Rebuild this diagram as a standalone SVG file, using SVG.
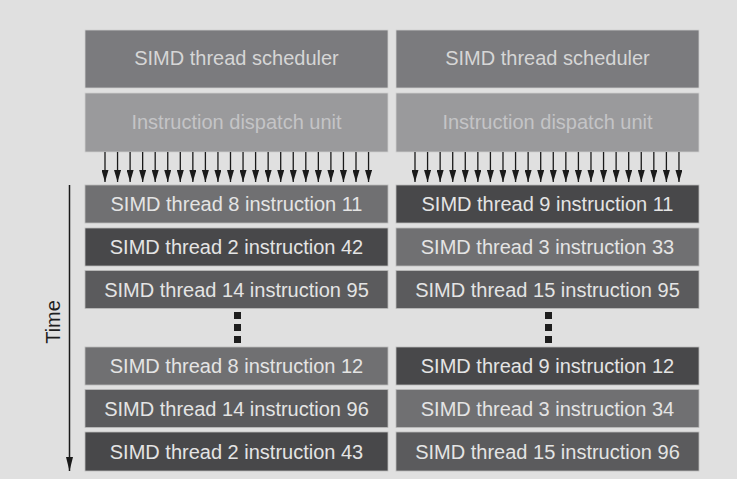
<svg xmlns="http://www.w3.org/2000/svg" width="737" height="479" viewBox="0 0 737 479">
<style>
  text { font-family: "Liberation Sans", Arial, sans-serif; font-size: 20px; text-anchor: middle; }
  .sched { fill: #7b7b7e; stroke: #d0d0d0; stroke-width: 0.8; }
  .disp { fill: #9a9a9c; stroke: #d0d0d0; stroke-width: 0.8; }
  .light { fill: #707072; stroke: #bcbcbc; stroke-width: 0.8; }
  .med { fill: #5b5b5d; stroke: #bcbcbc; stroke-width: 0.8; }
  .dark { fill: #48484a; stroke: #bcbcbc; stroke-width: 0.8; }
  .tsched { fill: #d6d6d6; }
  .tdisp { fill: #c4c4c6; }
  .trow { fill: #e4e4e4; }
  .arr { stroke: #1a1a1a; stroke-width: 1.3; marker-end: url(#ah); }
  .dot { fill: #1e1e1e; }
</style>
<defs>
  <marker id="ah" markerUnits="userSpaceOnUse" markerWidth="12" markerHeight="7" refX="12" refY="3.5" orient="auto" viewBox="0 0 12 7">
    <path d="M0,0 L12,3.5 L0,7 z" fill="#1a1a1a"/>
  </marker>
  <marker id="ah2" markerUnits="userSpaceOnUse" markerWidth="14" markerHeight="7" refX="14" refY="3.5" orient="auto" viewBox="0 0 14 7">
    <path d="M0,0 L14,3.5 L0,7 z" fill="#1a1a1a"/>
  </marker>
</defs>
<rect x="0" y="0" width="737" height="479" fill="#e0e0e0"/>

<g id="sched-left"><rect class="sched" x="85" y="30" width="303" height="58"/><text class="tsched" x="236.5" y="65">SIMD thread scheduler</text></g>
<g id="sched-right"><rect class="sched" x="396" y="30" width="303" height="58"/><text class="tsched" x="547.5" y="65">SIMD thread scheduler</text></g>
<g id="disp-left"><rect class="disp" x="85" y="93" width="303" height="59"/><text class="tdisp" x="236.5" y="129">Instruction dispatch unit</text></g>
<g id="disp-right"><rect class="disp" x="396" y="93" width="303" height="59"/><text class="tdisp" x="547.5" y="129">Instruction dispatch unit</text></g>

<g id="connectors">
  <line class="arr" x1="105" y1="152" x2="105" y2="182"/>
  <line class="arr" x1="117.55" y1="152" x2="117.55" y2="182"/>
  <line class="arr" x1="130.1" y1="152" x2="130.1" y2="182"/>
  <line class="arr" x1="142.65" y1="152" x2="142.65" y2="182"/>
  <line class="arr" x1="155.2" y1="152" x2="155.2" y2="182"/>
  <line class="arr" x1="167.75" y1="152" x2="167.75" y2="182"/>
  <line class="arr" x1="180.3" y1="152" x2="180.3" y2="182"/>
  <line class="arr" x1="192.85" y1="152" x2="192.85" y2="182"/>
  <line class="arr" x1="205.4" y1="152" x2="205.4" y2="182"/>
  <line class="arr" x1="217.95" y1="152" x2="217.95" y2="182"/>
  <line class="arr" x1="230.5" y1="152" x2="230.5" y2="182"/>
  <line class="arr" x1="243.05" y1="152" x2="243.05" y2="182"/>
  <line class="arr" x1="255.6" y1="152" x2="255.6" y2="182"/>
  <line class="arr" x1="268.15" y1="152" x2="268.15" y2="182"/>
  <line class="arr" x1="280.7" y1="152" x2="280.7" y2="182"/>
  <line class="arr" x1="293.25" y1="152" x2="293.25" y2="182"/>
  <line class="arr" x1="305.8" y1="152" x2="305.8" y2="182"/>
  <line class="arr" x1="318.35" y1="152" x2="318.35" y2="182"/>
  <line class="arr" x1="330.9" y1="152" x2="330.9" y2="182"/>
  <line class="arr" x1="343.45" y1="152" x2="343.45" y2="182"/>
  <line class="arr" x1="356" y1="152" x2="356" y2="182"/>
  <line class="arr" x1="368.55" y1="152" x2="368.55" y2="182"/>

  <line class="arr" x1="415" y1="152" x2="415" y2="182"/>
  <line class="arr" x1="427.57" y1="152" x2="427.57" y2="182"/>
  <line class="arr" x1="440.14" y1="152" x2="440.14" y2="182"/>
  <line class="arr" x1="452.71" y1="152" x2="452.71" y2="182"/>
  <line class="arr" x1="465.28" y1="152" x2="465.28" y2="182"/>
  <line class="arr" x1="477.85" y1="152" x2="477.85" y2="182"/>
  <line class="arr" x1="490.42" y1="152" x2="490.42" y2="182"/>
  <line class="arr" x1="502.99" y1="152" x2="502.99" y2="182"/>
  <line class="arr" x1="515.56" y1="152" x2="515.56" y2="182"/>
  <line class="arr" x1="528.13" y1="152" x2="528.13" y2="182"/>
  <line class="arr" x1="540.7" y1="152" x2="540.7" y2="182"/>
  <line class="arr" x1="553.27" y1="152" x2="553.27" y2="182"/>
  <line class="arr" x1="565.84" y1="152" x2="565.84" y2="182"/>
  <line class="arr" x1="578.41" y1="152" x2="578.41" y2="182"/>
  <line class="arr" x1="590.98" y1="152" x2="590.98" y2="182"/>
  <line class="arr" x1="603.55" y1="152" x2="603.55" y2="182"/>
  <line class="arr" x1="616.12" y1="152" x2="616.12" y2="182"/>
  <line class="arr" x1="628.69" y1="152" x2="628.69" y2="182"/>
  <line class="arr" x1="641.26" y1="152" x2="641.26" y2="182"/>
  <line class="arr" x1="653.83" y1="152" x2="653.83" y2="182"/>
  <line class="arr" x1="666.4" y1="152" x2="666.4" y2="182"/>
  <line class="arr" x1="678.97" y1="152" x2="678.97" y2="182"/>

  <line x1="69.5" y1="185" x2="69.5" y2="471" stroke="#1a1a1a" stroke-width="1.5" marker-end="url(#ah2)"/>
</g>

<g id="time-label"><text x="0" y="0" transform="translate(60,322) rotate(-90)" fill="#1e1e1e">Time</text></g>

<g id="l1"><rect class="light" x="85" y="185" width="303" height="38"/><text class="trow" x="236.5" y="211">SIMD thread 8 instruction 11</text></g>
<g id="l2"><rect class="dark" x="85" y="228" width="303" height="38"/><text class="trow" x="236.5" y="254">SIMD thread 2 instruction 42</text></g>
<g id="l3"><rect class="med" x="85" y="270.5" width="303" height="38"/><text class="trow" x="236.5" y="296.5">SIMD thread 14 instruction 95</text></g>
<g id="l4"><rect class="light" x="85" y="347" width="303" height="38"/><text class="trow" x="236.5" y="373">SIMD thread 8 instruction 12</text></g>
<g id="l5"><rect class="med" x="85" y="389.5" width="303" height="38"/><text class="trow" x="236.5" y="415.5">SIMD thread 14 instruction 96</text></g>
<g id="l6"><rect class="dark" x="85" y="432" width="303" height="39"/><text class="trow" x="236.5" y="458.5">SIMD thread 2 instruction 43</text></g>

<g id="r1"><rect class="dark" x="396" y="185" width="303" height="38"/><text class="trow" x="547.5" y="211">SIMD thread 9 instruction 11</text></g>
<g id="r2"><rect class="light" x="396" y="228" width="303" height="38"/><text class="trow" x="547.5" y="254">SIMD thread 3 instruction 33</text></g>
<g id="r3"><rect class="med" x="396" y="270.5" width="303" height="38"/><text class="trow" x="547.5" y="296.5">SIMD thread 15 instruction 95</text></g>
<g id="r4"><rect class="dark" x="396" y="347" width="303" height="38"/><text class="trow" x="547.5" y="373">SIMD thread 9 instruction 12</text></g>
<g id="r5"><rect class="light" x="396" y="389.5" width="303" height="38"/><text class="trow" x="547.5" y="415.5">SIMD thread 3 instruction 34</text></g>
<g id="r6"><rect class="med" x="396" y="432" width="303" height="39"/><text class="trow" x="547.5" y="458.5">SIMD thread 15 instruction 96</text></g>

<g id="ellipsis-left">
  <rect class="dot" x="234" y="312" width="7" height="7"/>
  <rect class="dot" x="234" y="324" width="7" height="7"/>
  <rect class="dot" x="234" y="336" width="7" height="7"/>
</g>
<g id="ellipsis-right">
  <rect class="dot" x="545" y="312" width="7" height="7"/>
  <rect class="dot" x="545" y="324" width="7" height="7"/>
  <rect class="dot" x="545" y="336" width="7" height="7"/>
</g>
</svg>
